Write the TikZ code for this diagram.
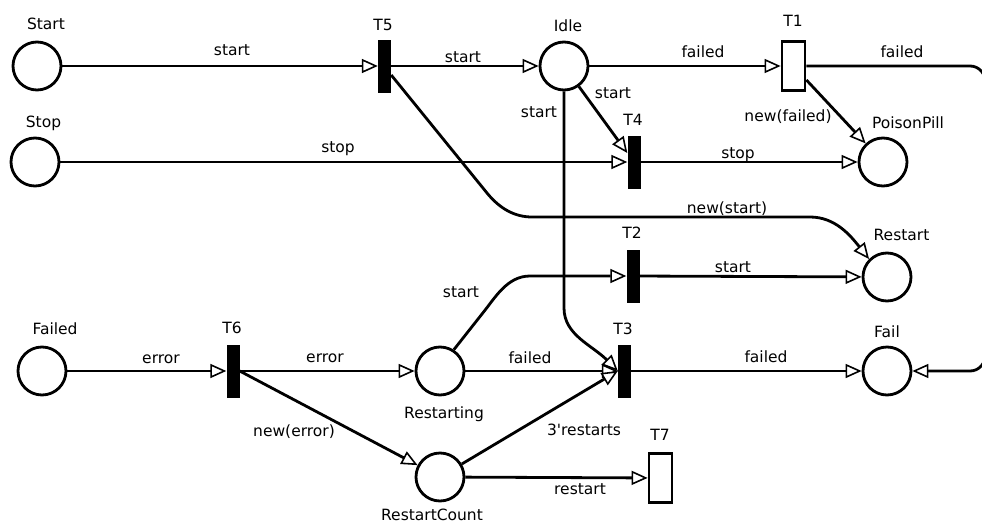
\documentclass[tikz,border=0pt]{standalone}
\usepackage{fontspec}
\setmainfont{DejaVu Sans}
\usetikzlibrary{arrows.meta,calc}
\begin{document}
\begin{tikzpicture}[x=1pt,y=-1pt,
  font=\fontsize{15.5}{18}\selectfont,
  place/.style={circle, draw, line width=2.8pt, minimum size=48pt, inner sep=0pt},
  barT/.style={rectangle, fill=black, minimum width=13pt, minimum height=53pt, inner sep=0pt},
  boxT/.style={rectangle, draw, fill=white, line width=2.8pt, minimum width=23pt, minimum height=49pt, inner sep=0pt},
  arc/.style={line width=2.8pt, -{Triangle[open, fill=white, length=16pt, width=14pt, line width=1.6pt]}},
  lbl/.style={anchor=base, inner sep=0pt}]
\fill[white] (0,0) rectangle (982,522);
\useasboundingbox (0,0) rectangle (982,522);

% places
\node[place] (Start) at (37,66) {};
\node[place] (Stop) at (35,162) {};
\node[place] (Idle) at (564,66) {};
\node[place] (PoisonPill) at (883,162) {};
\node[place] (Restart) at (887,277) {};
\node[place] (Fail) at (887,371) {};
\node[place] (Failed) at (42,371) {};
\node[place] (Restarting) at (440,371) {};
\node[place] (RestartCount) at (440,477) {};

% transitions
\node[barT] (T5) at (384.5,66) {};
\node[boxT] (T1) at (793.5,66) {};
\node[barT] (T4) at (634,162) {};
\node[barT] (T2) at (633,276) {};
\node[barT] (T3) at (624.5,371) {};
\node[barT] (T6) at (233,371) {};
\node[boxT] (T7) at (660.5,478) {};

% names of places and transitions
\node[lbl] (nStart) at (46,29) {Start};
\node[lbl] (nStop) at (43.5,127) {Stop};
\node[lbl] (nIdle) at (568,31) {Idle};
\node[lbl] (nPoison) at (908,128) {PoisonPill};
\node[lbl] (nRestart) at (901.5,240) {Restart};
\node[lbl] (nFail) at (887,337) {Fail};
\node[lbl] (nFailed) at (55,334) {Failed};
\node[lbl] (nRestarting) at (444,418) {Restarting};
\node[lbl] (nRestartCount) at (432,520) {RestartCount};
\node[lbl] (nT5) at (383,30) {T5};
\node[lbl] (nT1) at (793,27) {T1};
\node[lbl] (nT4) at (633,125) {T4};
\node[lbl] (nT2) at (632,238) {T2};
\node[lbl] (nT3) at (623,334) {T3};
\node[lbl] (nT6) at (232,333) {T6};
\node[lbl] (nT7) at (660,440) {T7};

% arcs
\draw[arc] (Start) -- (T5);
\draw[arc] (T5) -- (Idle);
\draw[arc] (Idle) -- (T1);
\draw[arc] (Stop) -- (T4);
\draw[arc] (T4) -- (PoisonPill);
\draw[arc] (Idle) -- ($(T4.west)+(0,-9)$);
\draw[arc] ($(T1.east)+(0,14)$) -- (PoisonPill);
\draw[arc] ($(T5.east)+(0,9)$) -- (487,193) .. controls (500,209) and (515,217) .. (532,217)
  -- (810,217) .. controls (835,217) and (850,235) .. (Restart.north west);
\draw[arc] (Idle.south) -- (564,308) .. controls (564,335) and (592,345) .. (T3.west);
\draw[arc] (Restarting.57) -- (482,314) .. controls (495,298) and (507,276) .. (530,276) -- (T2.west);
\draw[arc] (T2) -- (Restart);
\draw[arc] (Failed) -- (T6);
\draw[arc] (T6) -- (Restarting);
\draw[arc] (T6.east) -- (RestartCount);
\draw[arc] (Restarting) -- (T3.west);
\draw[arc] (RestartCount) -- (T3.west);
\draw[arc] (RestartCount) -- (T7);
\draw[arc] (T3) -- (Fail);
\draw[arc] (T1.east) -- (970,66) .. controls (978.3,66) and (985,72.7) .. (985,81)
  -- (985,356) .. controls (985,364.3) and (978.3,371) .. (970,371) -- (Fail.east);

% arc inscriptions
\node[lbl] (a1) at (232,55) {start};
\node[lbl] (a2) at (463,62) {start};
\node[lbl] (a3) at (703,57) {failed};
\node[lbl] (a4) at (902,57) {failed};
\node[lbl] (a5) at (613,98) {start};
\node[lbl] (a6) at (539,117) {start};
\node[lbl] (a7) at (788,121) {new(failed)};
\node[lbl] (a8) at (338,152) {stop};
\node[lbl] (a9) at (738,158) {stop};
\node[lbl] (a10) at (727,213) {new(start)};
\node[lbl] (a11) at (733,272) {start};
\node[lbl] (a12) at (461,297) {start};
\node[lbl] (a13) at (530,363) {failed};
\node[lbl] (a14) at (766,362) {failed};
\node[lbl] (a15) at (161,363) {error};
\node[lbl] (a16) at (325,362) {error};
\node[lbl] (a17) at (294,436) {new(error)};
\node[lbl] (a18) at (584,435) {3\textquotesingle restarts};
\node[lbl] (a19) at (580,494) {restart};
\end{tikzpicture}
\end{document}
